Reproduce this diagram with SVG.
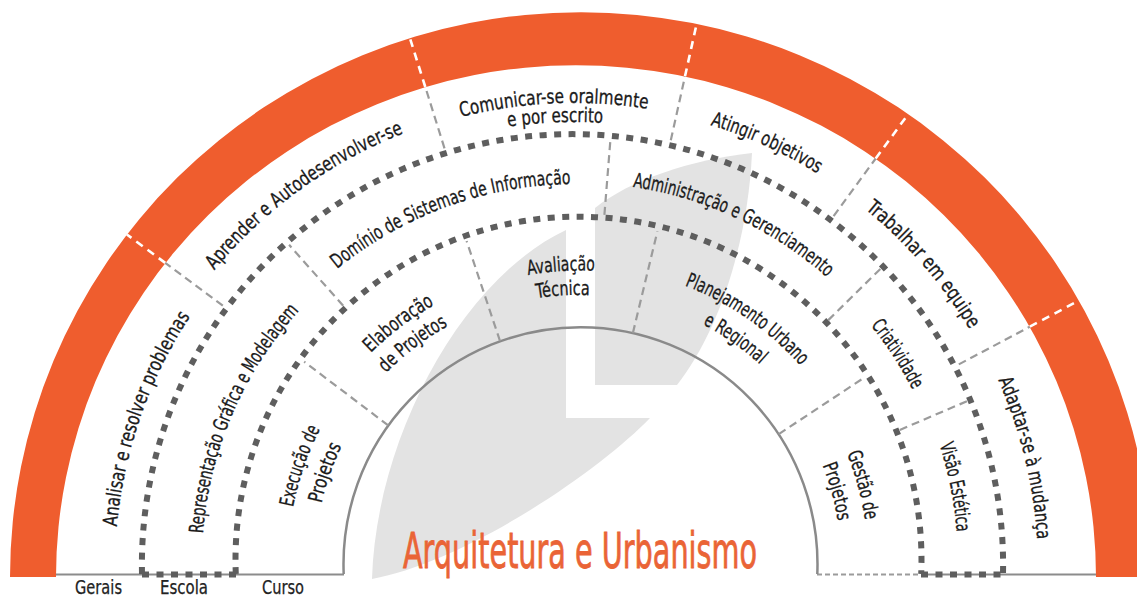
<svg xmlns="http://www.w3.org/2000/svg" xmlns:xlink="http://www.w3.org/1999/xlink" width="1137" height="597" viewBox="0 0 1137 597">
<style>
.lbl{font-family:"Liberation Sans Narrow","DejaVu Sans Condensed","Liberation Sans",sans-serif;font-stretch:condensed;font-size:20px;fill:#1a1a1a;stroke:#1a1a1a;stroke-width:0.3;text-anchor:middle}
.dot{fill:none;stroke:#5e5e5e;stroke-width:6;stroke-dasharray:7 7.5}
.div{fill:none;stroke:#9b9b9b;stroke-width:2.2;stroke-dasharray:8 5}
.wdiv{fill:none;stroke:#ffffff;stroke-width:2.6;stroke-dasharray:8 6}
.base{fill:none;stroke:#8c8c8c;stroke-width:2}
.foot{font-family:"Liberation Sans Narrow","DejaVu Sans Condensed","Liberation Sans",sans-serif;font-stretch:condensed;font-size:19px;fill:#222;stroke:#222;stroke-width:0.25;text-anchor:middle}
</style>
<defs>
<path id="p1" d="M160.8 767.8 A459 459 0 0 1 374.2 154.8"/>
<path id="p2" d="M112.9 494.1 A467 467 0 0 1 647.9 106.9"/>
<path id="p3a" d="M231.2 253.8 A465 465 0 0 1 888.2 225.2"/>
<path id="p3b" d="M245.7 266.1 A446 446 0 0 1 875.9 239.7"/>
<path id="p4" d="M410.9 134.1 A463.5 463.5 0 0 1 1007.9 404.9"/>
<path id="p5" d="M606.2 107.1 A462 462 0 0 1 1034.9 600.2"/>
<path id="p6" d="M815 171.5 A464 464 0 0 1 970.5 809"/>
<path id="p7" d="M228.5 700.3 A374 374 0 0 1 437.7 214.5"/>
<path id="p8" d="M233.4 402.3 A378 378 0 0 1 735.7 219.4"/>
<path id="p9" d="M446.2 205.4 A379.5 379.5 0 0 1 932.6 432.2"/>
<path id="p10" d="M655.2 192.4 A378 378 0 0 1 945.6 641.2"/>
<path id="p11" d="M788.5 244.6 A382 382 0 0 1 893.4 774.5"/>
<path id="p12a" d="M317.4 689.6 A291 291 0 0 1 451.4 300.4"/>
<path id="p12b" d="M340.9 676.1 A264 264 0 0 1 464.9 323.9"/>
<path id="p13a" d="M286.8 521.5 A295 295 0 0 1 619.5 269.8"/>
<path id="p13b" d="M311.4 525.8 A270 270 0 0 1 615.2 294.4"/>
<path id="p14a" d="M360.7 368.9 A291.5 291.5 0 0 1 772.1 343.7"/>
<path id="p14b" d="M379.3 384.7 A267 267 0 0 1 756.3 362.3"/>
<path id="p15a" d="M526.1 270.8 A296 296 0 0 1 870.2 509.1"/>
<path id="p15b" d="M532.5 298.1 A268 268 0 0 1 842.9 515.5"/>
<path id="p16a" d="M722.6 311.2 A289 289 0 0 1 829.8 705.6"/>
<path id="p16b" d="M708.8 334.4 A262 262 0 0 1 806.6 691.8"/>
</defs>
<rect width="1137" height="597" fill="#ffffff"/>

<g id="logo" fill="#e3e3e3">
<path d="M372 579 C376 440 460 280 566 230 L566 418 L650 418 C600 470 470 560 372 579 Z"/>
<path d="M595 385 L595 208 C630 180 690 160 752 153 C748 240 720 330 677 385 Z"/>
</g>

<g id="ring">
<path d="M10 577 A571 565 0 0 1 1152 577 L1096 577 A520 512 0 0 0 56 577 Z" fill="#ef5d2e"/>
</g>

<g id="arcs">
<line class="base" x1="56" y1="574.5" x2="344" y2="574.5"/>
<line class="base" x1="921" y1="574.5" x2="1096" y2="574.5"/>
<line x1="817" y1="574.5" x2="921" y2="574.5" stroke="#9b9b9b" stroke-width="2" stroke-dasharray="5 3"/>
<path d="M343.7 574 A237 237 0 1 1 817.3 574" fill="none" stroke="#8a8a8a" stroke-width="2.5"/>
<path class="dot" d="M142 574 A430.6 430.6 0 1 1 1003 574"/>
<path class="dot" d="M235.8 574 A343 343 0 1 1 921.2 574"/>
<line class="dot" x1="142" y1="574.5" x2="236" y2="574.5"/>
<line class="dot" x1="921" y1="574.5" x2="1003" y2="574.5"/>
</g>

<g id="connectors">
<line class="div" x1="222.8" y1="305.7" x2="165.2" y2="262.9"/>
<line class="wdiv" x1="165.2" y1="262.9" x2="126.9" y2="234.5"/>
<line class="div" x1="444.5" y1="148.3" x2="425.3" y2="87"/>
<line class="wdiv" x1="425.3" y1="87" x2="409.9" y2="38"/>
<line class="div" x1="670.8" y1="140.3" x2="685" y2="76.3"/>
<line class="wdiv" x1="685" y1="76.3" x2="696.7" y2="23.6"/>
<line class="div" x1="833.6" y1="216.1" x2="875.7" y2="158.5"/>
<line class="wdiv" x1="875.7" y1="158.5" x2="908.4" y2="113.8"/>
<line class="div" x1="958.8" y1="364.4" x2="1029.8" y2="326.7"/>
<line class="wdiv" x1="1029.8" y1="326.7" x2="1079.2" y2="300.4"/>
<line class="div" x1="343.2" y1="305.8" x2="289.1" y2="244.8"/>
<line class="div" x1="604.4" y1="214.9" x2="610.5" y2="138.7"/>
<line class="div" x1="828.3" y1="320.1" x2="880.7" y2="268.6"/>
<line class="div" x1="899.8" y1="429.9" x2="967" y2="401.2"/>
<line class="div" x1="388.2" y1="425.4" x2="304.2" y2="361.7"/>
<line class="div" x1="500" y1="341" x2="466.6" y2="241"/>
<line class="div" x1="632.9" y1="332.9" x2="657.4" y2="231.3"/>
<line class="div" x1="778.8" y1="434.1" x2="863.8" y2="377.9"/>
</g>

<g id="n-analisar"><text class="lbl"><textPath xlink:href="#p1" startOffset="50%" textLength="225" lengthAdjust="spacingAndGlyphs">Analisar e resolver problemas</textPath></text></g>
<g id="n-aprender"><text class="lbl"><textPath xlink:href="#p2" startOffset="50%" textLength="236" lengthAdjust="spacingAndGlyphs">Aprender e Autodesenvolver-se</textPath></text></g>
<g id="n-comunicar">
<text class="lbl"><textPath xlink:href="#p3a" startOffset="50%" textLength="188" lengthAdjust="spacingAndGlyphs">Comunicar-se oralmente</textPath></text>
<text class="lbl"><textPath xlink:href="#p3b" startOffset="50%" textLength="95" lengthAdjust="spacingAndGlyphs">e por escrito</textPath></text>
</g>
<g id="n-atingir"><text class="lbl"><textPath xlink:href="#p4" startOffset="50%" textLength="118" lengthAdjust="spacingAndGlyphs">Atingir objetivos</textPath></text></g>
<g id="n-trabalhar"><text class="lbl"><textPath xlink:href="#p5" startOffset="50%" textLength="160" lengthAdjust="spacingAndGlyphs">Trabalhar em equipe</textPath></text></g>
<g id="n-adaptar"><text class="lbl"><textPath xlink:href="#p6" startOffset="50%" textLength="165" lengthAdjust="spacingAndGlyphs">Adaptar-se à mudança</textPath></text></g>
<g id="n-representacao"><text class="lbl"><textPath xlink:href="#p7" startOffset="50%" textLength="247" lengthAdjust="spacingAndGlyphs">Representação Gráfica e Modelagem</textPath></text></g>
<g id="n-dominio"><text class="lbl"><textPath xlink:href="#p8" startOffset="50%" textLength="253" lengthAdjust="spacingAndGlyphs">Domínio de Sistemas de Informação</textPath></text></g>
<g id="n-administracao"><text class="lbl"><textPath xlink:href="#p9" startOffset="50%" textLength="217" lengthAdjust="spacingAndGlyphs">Administração e Gerenciamento</textPath></text></g>
<g id="n-criatividade"><text class="lbl"><textPath xlink:href="#p10" startOffset="50%" textLength="77" lengthAdjust="spacingAndGlyphs">Criatividade</textPath></text></g>
<g id="n-visao"><text class="lbl"><textPath xlink:href="#p11" startOffset="50%" textLength="89" lengthAdjust="spacingAndGlyphs">Visão Estética</textPath></text></g>
<g id="n-execucao">
<text class="lbl"><textPath xlink:href="#p12a" startOffset="50%" textLength="83" lengthAdjust="spacingAndGlyphs">Execução de</textPath></text>
<text class="lbl"><textPath xlink:href="#p12b" startOffset="50%" textLength="61" lengthAdjust="spacingAndGlyphs">Projetos</textPath></text>
</g>
<g id="n-elaboracao">
<text class="lbl"><textPath xlink:href="#p13a" startOffset="50%" textLength="80" lengthAdjust="spacingAndGlyphs">Elaboração</textPath></text>
<text class="lbl"><textPath xlink:href="#p13b" startOffset="50%" textLength="78" lengthAdjust="spacingAndGlyphs">de Projetos</textPath></text>
</g>
<g id="n-avaliacao">
<text class="lbl"><textPath xlink:href="#p14a" startOffset="50%" textLength="67" lengthAdjust="spacingAndGlyphs">Avaliação</textPath></text>
<text class="lbl"><textPath xlink:href="#p14b" startOffset="50%" textLength="53" lengthAdjust="spacingAndGlyphs">Técnica</textPath></text>
</g>
<g id="n-planejamento">
<text class="lbl"><textPath xlink:href="#p15a" startOffset="50%" textLength="142" lengthAdjust="spacingAndGlyphs">Planejamento Urbano</textPath></text>
<text class="lbl"><textPath xlink:href="#p15b" startOffset="50%" textLength="70" lengthAdjust="spacingAndGlyphs">e Regional</textPath></text>
</g>
<g id="n-gestao">
<text class="lbl"><textPath xlink:href="#p16a" startOffset="50%" textLength="69" lengthAdjust="spacingAndGlyphs">Gestão de</textPath></text>
<text class="lbl"><textPath xlink:href="#p16b" startOffset="50%" textLength="58" lengthAdjust="spacingAndGlyphs">Projetos</textPath></text>
</g>

<g id="title"><text x="580" y="568" font-family="'Liberation Sans Narrow','DejaVu Sans Condensed','Liberation Sans',sans-serif" font-stretch="condensed" font-size="50" fill="#ea6436" stroke="#ea6436" stroke-width="0.8" text-anchor="middle" textLength="354" lengthAdjust="spacingAndGlyphs">Arquitetura e Urbanismo</text></g>

<g id="footer">
<text class="foot" x="98.5" y="594" textLength="47" lengthAdjust="spacingAndGlyphs">Gerais</text>
<text class="foot" x="184" y="594" textLength="48" lengthAdjust="spacingAndGlyphs">Escola</text>
<text class="foot" x="283" y="594" textLength="42" lengthAdjust="spacingAndGlyphs">Curso</text>
</g>
</svg>
